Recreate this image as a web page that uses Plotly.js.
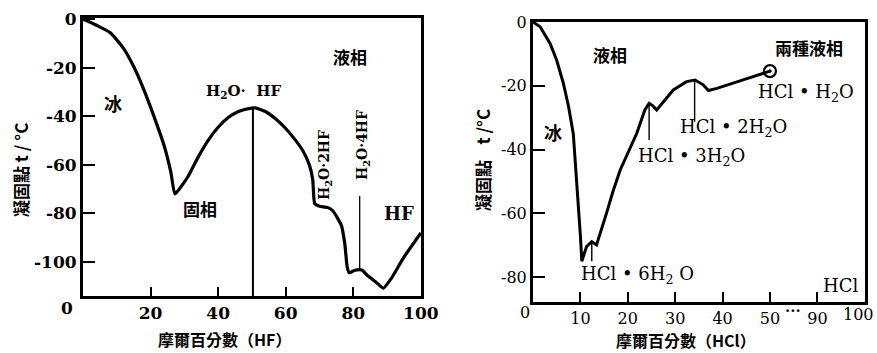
<!DOCTYPE html>
<html><head><meta charset="utf-8">
<script src="https://cdn.plot.ly/plotly-3.0.1.min.js"></script>
<style>html,body{margin:0;padding:0;background:#fff}#c{width:877px;height:353px}</style>
</head><body><div id="c"></div><script>
// ---- Left: H2O–HF freezing point curve (mol % HF, °C)
const hfX = [0, 1.5, 4, 8, 12, 15, 18, 21, 24, 26, 27.2, 29, 31, 34, 37, 40, 43, 46, 49, 51, 54, 57, 60, 63, 65, 67, 68, 68.6, 70, 72.5, 74, 76.5, 77.5, 78.2, 78.8, 80.5, 82.5, 84.4, 86.9, 88.9, 91.4, 94.9, 100];
const hfT = [0, -0.8, -2.5, -5.5, -12, -19.5, -29, -40, -52, -63, -72, -69, -65, -57, -50, -44.5, -40.5, -38, -36.8, -36.5, -38, -41, -45, -50, -54, -60, -66, -76, -77, -77.6, -79, -85, -92.6, -102, -104.4, -103.4, -103.3, -105.8, -108.5, -110.8, -106.5, -98.2, -88];
// compound markers (composition, top t, bottom t)
const hfCompX = [50.3, 81.9];
const hfCompTop = [-36.5, -72.8];
const hfCompBot = [-114, -103.3];
const hfXTicks = [20, 40, 60, 80, 100];
const hfYTicks = [0, -20, -40, -60, -80, -100];

// ---- Right: H2O–HCl freezing point curve (mol % HCl, °C)
const hclX = [0, 1.5, 3.6, 5, 6.4, 7.5, 8.5, 9.2, 9.6, 10, 10.3, 11.3, 12.4, 13.4, 15.5, 16.9, 18.4, 21.9, 23.6, 24.5, 25.3, 26.1, 29.6, 32.4, 34.2, 35.9, 37, 38.8, 44, 50];
const hclT = [0, -1.5, -6.7, -12, -19.2, -26.5, -35, -49.5, -57, -67, -75, -70.4, -68.9, -69.9, -60, -53, -46.4, -34.9, -27.6, -25.5, -26.3, -27.6, -21.3, -18.7, -18.2, -19.7, -21.5, -20.8, -18.3, -15.4];
const hclCompX = [12.4, 24.5, 34.1];
const hclCompTop = [-68.9, -25.5, -18.2];
const hclCompBot = [-75, -37, -31.3];
const hclXTicks = [10, 20, 30, 40, 50, 90, 100];
const hclYTicks = [0, -20, -40, -60, -80];
// broken axis: 50 ··· 90 occupies one interval
const brk = v => v <= 50 ? v : v - 30;

const W = 877, H = 353;
const P = (x, y) => ({x: x / W, y: 1 - y / H});

const serif = '"DejaVu Serif", "Liberation Serif", serif';
const cjk = '"Noto Sans CJK TC", "Noto Sans CJK SC", sans-serif';

const traces = [
  {x: hfX, y: hfT, xaxis: 'x', yaxis: 'y', mode: 'lines', line: {color: '#000', width: 3.2, shape: 'spline', smoothing: 0.5}, hoverinfo: 'skip'},
  {x: hclX.map(brk), y: hclT, xaxis: 'x2', yaxis: 'y2', mode: 'lines', line: {color: '#000', width: 3, shape: 'linear'}, hoverinfo: 'skip'},
  {x: [brk(hclX[hclX.length - 1])], y: [hclT[hclT.length - 1]], xaxis: 'x2', yaxis: 'y2', mode: 'markers',
   marker: {symbol: 'circle-open-dot', size: 12, color: '#000', line: {width: 2.2, color: '#000'}}, hoverinfo: 'skip'}
];
hfCompX.forEach((c, i) => traces.push({x: [c, c], y: [hfCompTop[i], hfCompBot[i]], xaxis: 'x', yaxis: 'y', mode: 'lines', line: {color: '#000', width: i === 0 ? 2 : 1.3}, hoverinfo: 'skip'}));
hclCompX.forEach((c, i) => traces.push({x: [brk(c), brk(c)], y: [hclCompTop[i], hclCompBot[i]], xaxis: 'x2', yaxis: 'y2', mode: 'lines', line: {color: '#000', width: 1.4}, hoverinfo: 'skip'}));

const tf = (s, w) => ({family: serif, size: s, color: '#000', weight: w || 'bold'});
const axBase = {showgrid: false, zeroline: false, showline: true, mirror: true, linecolor: '#000', linewidth: 3,
  ticks: 'inside', tickcolor: '#000', tickwidth: 2, fixedrange: true};

const ann = [];
function A(text, x, y, font, extra) {
  const p = P(x, y);
  ann.push(Object.assign({text: text, x: p.x, y: p.y, xref: 'paper', yref: 'paper', showarrow: false, xanchor: 'center', yanchor: 'middle',
    font: font}, extra || {}));
}
const cj = s => ({family: cjk, size: s, color: '#000', weight: 'bold'});
// left labels
A('0', 67, 308, tf(17));
A('液相', 350, 57, cj(17));
A('H<sub>2</sub>O·  HF', 243, 92, tf(15));
A('冰', 113, 103, cj(18));
A('固相', 200, 208, cj(17));
A('H<sub>2</sub>O·2HF', 325, 165, tf(14), {textangle: -90});
A('H<sub>2</sub>O·4HF', 363, 145, tf(14), {textangle: -90});
A('HF', 399, 213, tf(18));
A('凝固點 t / °C', 20, 170, cj(17), {textangle: -90});
A('摩爾百分數（HF）', 224, 339, cj(16));
// right labels
A('0', 525, 312, tf(16, 'normal'));
A('···', 793, 311, tf(15));
// last tick label of the broken axis sits at the page edge: right-anchored so it stays whole
A(String(hclXTicks[hclXTicks.length - 1]), 876, 314, tf(16, 'normal'), {xanchor: 'right'});
A('液相', 610, 55, cj(17));
A('兩種液相', 809, 47, cj(17));
A('HCl • H<sub>2</sub>O', 806, 93, tf(18, 'normal'));
A('冰', 553, 132, cj(18));
A('HCl • 2H<sub>2</sub>O', 733, 128, tf(18, 'normal'));
A('HCl • 3H<sub>2</sub>O', 691, 157, tf(18, 'normal'));
A('HCl • 6H<sub>2</sub> O', 637, 275, tf(18, 'normal'));
A('HCl', 840, 285, tf(18, 'normal'));
A('凝固點    t /°C', 482, 160, cj(17), {textangle: -90});
A('摩爾百分數（HCl）', 686, 340, cj(16));

const layout = {
  width: W, height: H, margin: {l: 0, r: 0, t: 0, b: 0}, paper_bgcolor: '#fff', plot_bgcolor: '#fff', showlegend: false,
  font: {family: serif, color: '#000'},
  xaxis: Object.assign({}, axBase, {domain: [83 / W, 421 / W], range: [0, 100.05], tickvals: hfXTicks, ticktext: hfXTicks.map(String), ticklen: 9, anchor: 'y', tickfont: tf(17), ticklabeloverflow: 'allow'}),
  yaxis: Object.assign({}, axBase, {domain: [1 - 296 / H, 1 - 18 / H], range: [-114, 0.5], tickvals: hfYTicks, ticktext: hfYTicks.map(v => v === 0 ? '0' : '-' + Math.abs(v)), ticklen: 12, anchor: 'x', tickfont: tf(17)}),
  xaxis2: Object.assign({}, axBase, {domain: [533 / W, 865 / W], range: [0, 70.05], tickvals: hclXTicks.map(brk), ticktext: hclXTicks.map((v, i) => i === hclXTicks.length - 1 ? '' : String(v)), ticklen: 10, anchor: 'y2', tickfont: tf(16, 'normal')}),
  yaxis2: Object.assign({}, axBase, {domain: [1 - 302 / H, 1 - 22 / H], range: [-87.8, 0], tickvals: hclYTicks, ticktext: hclYTicks.map(v => v === 0 ? '0' : '-' + Math.abs(v)), ticklen: 12, anchor: 'x2', tickfont: tf(16, 'normal')}),
  annotations: ann
};
Plotly.newPlot('c', traces, layout, {staticPlot: true, displayModeBar: false});
</script></body></html>
